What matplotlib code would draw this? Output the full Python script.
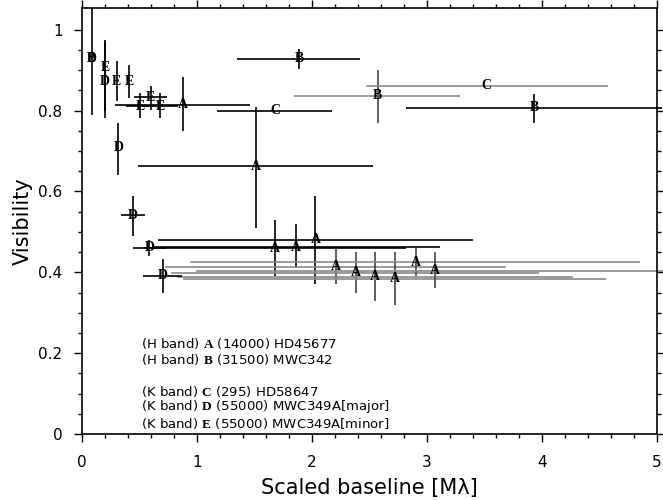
import numpy as np
import matplotlib
matplotlib.use("Agg")
import matplotlib.pyplot as plt

plt.rcParams['font.family'] = ['DejaVu Sans']
plt.rcParams['mathtext.fontset'] = 'custom'
plt.rcParams['mathtext.bf'] = 'Liberation Serif:bold'

# --- data ------------------------------------------------------------
# A : H band, HD45677
a_x   = [0.875, 1.51, 1.68, 1.86, 2.03, 2.21, 2.38, 2.55, 2.72, 2.90, 3.07]
a_y   = [0.815, 0.662, 0.459, 0.462, 0.481, 0.414, 0.399, 0.389, 0.384, 0.425, 0.404]
a_xlo = [0.29, 0.49, 0.54, 0.61, 0.66, 0.72, 0.77, 0.83, 0.88, 0.94, 0.99]
a_xhi = [1.46, 2.53, 2.82, 3.11, 3.40, 3.69, 3.97, 4.27, 4.56, 4.85, 5.13]
a_ylo = [0.75, 0.51, 0.39, 0.41, 0.37, 0.37, 0.35, 0.33, 0.32, 0.39, 0.36]
a_yhi = [0.884, 0.81, 0.53, 0.52, 0.59, 0.46, 0.45, 0.45, 0.45, 0.46, 0.45]

# B : H band, MWC342
b_x   = [0.084, 1.89, 2.57, 3.93]
b_y   = [0.930, 0.928, 0.837, 0.807]
b_xlo = [0.084, 1.35, 1.84, 2.82]
b_xhi = [0.084, 2.42, 3.29, 5.04]
b_ylo = [0.930, 0.904, 0.77, 0.77]
b_yhi = [0.930, 0.953, 0.90, 0.84]

# C : K band, HD58647
c_x   = [1.68, 3.52]
c_y   = [0.800, 0.862]
c_xlo = [1.17, 2.47]
c_xhi = [2.17, 4.57]
c_ylo = [0.800, 0.862]
c_yhi = [0.800, 0.862]

# D : K band, MWC349A major
d_x   = [0.084, 0.20, 0.315, 0.445, 0.585, 0.70]
d_y   = [0.930, 0.873, 0.708, 0.541, 0.461, 0.391]
d_xlo = [0.084, 0.20, 0.315, 0.34, 0.44, 0.53]
d_xhi = [0.084, 0.20, 0.315, 0.55, 0.73, 0.87]
d_ylo = [0.79, 0.782, 0.64, 0.49, 0.44, 0.35]
d_yhi = [1.054, 0.974, 0.77, 0.59, 0.48, 0.432]

# E : K band, MWC349A minor
e_x   = [0.20, 0.30, 0.41, 0.504, 0.597, 0.678]
e_y   = [0.906, 0.872, 0.872, 0.811, 0.833, 0.811]
e_xlo = [0.20, 0.30, 0.41, 0.383, 0.455, 0.52]
e_xhi = [0.20, 0.30, 0.41, 0.625, 0.742, 0.837]
e_ylo = [0.80, 0.823, 0.831, 0.782, 0.802, 0.782]
e_yhi = [0.97, 0.923, 0.914, 0.844, 0.862, 0.844]

legend_lines = [
    (r"(H band) $\mathbf{A}$ (14000) HD45677", 0.224),
    (r"(H band) $\mathbf{B}$ (31500) MWC342", 0.185),
    (r"(K band) $\mathbf{C}$ (295) HD58647", 0.106),
    (r"(K band) $\mathbf{D}$ (55000) MWC349A[major]", 0.067),
    (r"(K band) $\mathbf{E}$ (55000) MWC349A[minor]", 0.027),
]

# which horizontal bars are drawn in grey (per series, by index)
grey_h = {"A": [5, 6, 7, 8, 9, 10], "B": [2], "C": [1]}

series = [
    ("A", a_x, a_y, a_xlo, a_xhi, a_ylo, a_yhi),
    ("B", b_x, b_y, b_xlo, b_xhi, b_ylo, b_yhi),
    ("C", c_x, c_y, c_xlo, c_xhi, c_ylo, c_yhi),
    ("D", d_x, d_y, d_xlo, d_xhi, d_ylo, d_yhi),
    ("E", e_x, e_y, e_xlo, e_xhi, e_ylo, e_yhi),
]

fig = plt.figure(figsize=(6.63, 5.0), dpi=100)
ax = fig.add_axes([0.1237, 0.132, 0.8673, 0.852])

for lab, x, y, xlo, xhi, ylo, yhi in series:
    for i in range(len(x)):
        hcol = '#8a8a8a' if i in grey_h.get(lab, []) else 'black'
        vcol = '#444444' if i in grey_h.get(lab, []) else 'black'
        if xhi[i] > xlo[i]:
            ax.hlines(y[i], xlo[i], xhi[i], color=hcol, lw=1.2, clip_on=False, zorder=2)
        if yhi[i] > ylo[i]:
            ax.vlines(x[i], ylo[i], yhi[i], color=vcol, lw=1.2, clip_on=False, zorder=2)
    for i in range(len(x)):
        ax.text(x[i], y[i], lab, ha='center', va='center', fontsize=10,
                family='Liberation Serif', fontweight='bold', zorder=3)

for txt, yy in legend_lines:
    ax.text(0.513, yy, txt, ha='left', va='center', fontsize=9.5)

ax.set_xlim(0, 5)
ax.set_ylim(0, 1.054)
ax.set_xticks([0, 1, 2, 3, 4, 5])
ax.set_xticks(np.arange(0, 5.01, 0.2), minor=True)
ax.set_yticks([0, 0.2, 0.4, 0.6, 0.8, 1])
ax.set_yticklabels(['0', '0.2', '0.4', '0.6', '0.8', '1'])
ax.set_yticks(np.arange(0, 1.05, 0.05), minor=True)
ax.tick_params(which='both', direction='out', top=True, right=True,
               labelsize=11, width=1.0)
ax.tick_params(which='major', length=6)
ax.tick_params(which='minor', length=3)
ax.tick_params(axis='x', which='major', pad=9)
ax.tick_params(axis='y', which='major', pad=8)
for s in ax.spines.values():
    s.set_linewidth(1.2)

ax.set_xlabel("Scaled baseline [M\u03bb]", fontsize=15, labelpad=6)
ax.set_ylabel("Visibility", fontsize=15, labelpad=4)

fig.savefig("out.png", dpi=100)
